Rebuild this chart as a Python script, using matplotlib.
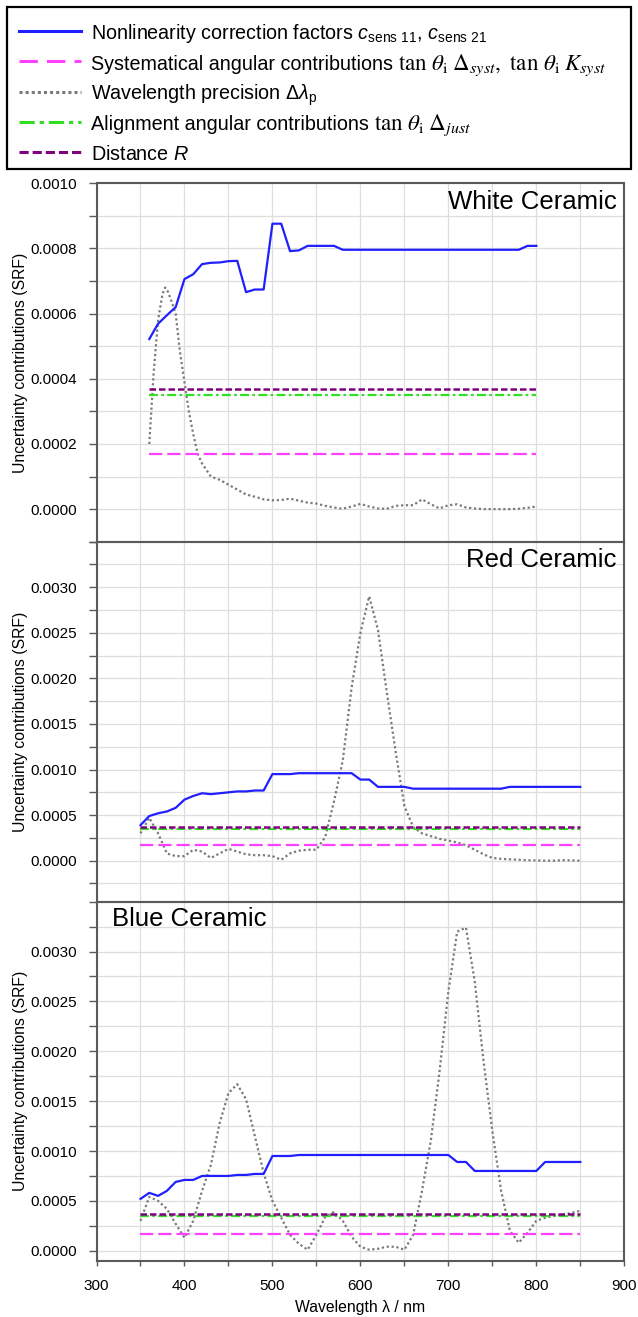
import matplotlib
matplotlib.use("Agg")
import matplotlib.pyplot as plt
from matplotlib.lines import Line2D
from matplotlib.patches import Rectangle
from matplotlib.ticker import MultipleLocator, FixedLocator, FormatStrFormatter
import numpy as np

plt.rcParams['font.family'] = ['Liberation Sans', 'DejaVu Sans']
plt.rcParams['mathtext.fontset'] = 'custom'
plt.rcParams['mathtext.rm'] = 'Liberation Sans'
plt.rcParams['mathtext.it'] = 'Liberation Sans:italic'
plt.rcParams['mathtext.bf'] = 'Liberation Sans:bold'

# ---- White ceramic ----
white_wl = list(range(360, 801, 10))
white_nonlin = [0.000522, 0.000569, 0.000595, 0.00062, 0.000706, 0.000721, 0.000752,
                0.000756, 0.000757, 0.000761, 0.000762, 0.000666, 0.000674, 0.000674,
                0.000876, 0.000876, 0.000792, 0.000794, 0.000808, 0.000808, 0.000808,
                0.000808, 0.000796, 0.000796, 0.000796, 0.000796, 0.000796, 0.000796,
                0.000796, 0.000796, 0.000796, 0.000796, 0.000796, 0.000796, 0.000796,
                0.000796, 0.000796, 0.000796, 0.000796, 0.000796, 0.000796, 0.000796,
                0.000796, 0.000808, 0.000808]
white_prec_wl = [360, 365, 370, 375, 378, 380, 385, 390, 395, 400, 405, 410, 415, 420,
                 430, 440, 450, 460, 470, 480, 490, 500, 510, 520, 530, 540, 550, 560,
                 570, 580, 590, 600, 610, 620, 630, 640, 650, 660, 670, 680, 690, 700,
                 710, 720, 730, 740, 750, 760, 770, 780, 790, 800]
white_prec = [0.0002, 0.00042, 0.00058, 0.00066, 0.00068, 0.000675, 0.00064, 0.0006,
              0.00048, 0.00039, 0.0003, 0.00023, 0.00017, 0.00014, 0.0001, 0.00009,
              0.000075, 0.00006, 0.000045, 0.000038, 0.00003, 0.000027, 0.000028,
              0.000032, 0.000026, 0.00002, 0.000017, 0.00001, 0.000005, 0.000001,
              0.000008, 0.000016, 0.000008, 0.000002, 0.000001, 0.00001, 0.000012,
              0.000012, 0.00003, 0.000015, 0.000002, 0.000012, 0.000015, 0.000005,
              0.000002, 0.0, 0.0, 0.0, 0.0, 0.000001, 0.000004, 0.000008]

# ---- Red ceramic ----
red_wl = list(range(350, 851, 10))
red_nonlin = [0.00039, 0.00049, 0.00052, 0.00054, 0.00058, 0.00067, 0.00071, 0.00074,
              0.00073, 0.00074, 0.00075, 0.00076, 0.00076, 0.00077, 0.00077, 0.00095,
              0.00095, 0.00095, 0.00096, 0.00096, 0.00096, 0.00096, 0.00096, 0.00096,
              0.00096, 0.00089, 0.00089, 0.00081, 0.00081, 0.00081, 0.00081, 0.00079,
              0.00079, 0.00079, 0.00079, 0.00079, 0.00079, 0.00079, 0.00079, 0.00079,
              0.00079, 0.00079, 0.00081, 0.00081, 0.00081, 0.00081, 0.00081, 0.00081,
              0.00081, 0.00081, 0.00081]
red_prec = [0.0003, 0.00047, 0.0003, 0.00008, 0.00005, 0.00005, 0.00012, 0.0001, 0.00003,
            0.00008, 0.00013, 0.0001, 0.00007, 0.00006, 0.00006, 0.00005, 0.00001,
            0.00008, 0.00011, 0.00012, 0.00012, 0.00026, 0.00065, 0.0011, 0.0019, 0.0025,
            0.0029, 0.00253, 0.00185, 0.0012, 0.0006, 0.00037, 0.0003, 0.00027, 0.00024,
            0.00022, 0.0002, 0.00017, 0.00012, 0.00007, 0.00003, 0.00002, 0.000015,
            0.00001, 0.000005, 0.000003, 0.0, 0.0, 0.000005, 0.000003, 0.0]

# ---- Blue ceramic ----
blue_wl = list(range(350, 851, 10))
blue_nonlin = [0.00052, 0.00058, 0.00055, 0.0006, 0.00069, 0.00071, 0.00071, 0.00075,
               0.00075, 0.00075, 0.00075, 0.00076, 0.00076, 0.00077, 0.00077, 0.00095,
               0.00095, 0.00095, 0.00096, 0.00096, 0.00096, 0.00096, 0.00096, 0.00096,
               0.00096, 0.00096, 0.00096, 0.00096, 0.00096, 0.00096, 0.00096, 0.00096,
               0.00096, 0.00096, 0.00096, 0.00096, 0.00089, 0.00089, 0.0008, 0.0008,
               0.0008, 0.0008, 0.0008, 0.0008, 0.0008, 0.0008, 0.00089, 0.00089,
               0.00089, 0.00089, 0.00089]
blue_prec = [0.0003, 0.00054, 0.0005, 0.00042, 0.00027, 0.00013, 0.0003, 0.0006, 0.00086,
             0.00128, 0.00158, 0.00167, 0.00152, 0.00115, 0.00078, 0.0005, 0.00033,
             0.00016, 0.00007, 0.00001, 0.00016, 0.00034, 0.00039, 0.0003, 0.00014,
             0.00004, 0.00001, 0.00002, 0.00004, 0.00004, 0.00001, 0.00016, 0.0006,
             0.0011, 0.0018, 0.0026, 0.0032, 0.00324, 0.0027, 0.0019, 0.0012, 0.0006,
             0.0002, 0.00008, 0.00018, 0.0003, 0.00033, 0.00035, 0.00036, 0.00038, 0.0004]

# constant contributions (same for all samples)
syst_angular = 0.00017
align_angular = 0.00035
distance_r = 0.00037

panels = [
    ("White Ceramic", white_wl, white_nonlin, white_prec_wl, white_prec, (-0.0001, 0.0010), 0.0002, 0.0001, 0.0010),
    ("Red Ceramic", red_wl, red_nonlin, red_wl, red_prec, (-0.00045, 0.0035), 0.0005, 0.00025, 0.0030),
    ("Blue Ceramic", blue_wl, blue_nonlin, blue_wl, blue_prec, (-0.0001, 0.0035), 0.0005, 0.00025, 0.0030),
]

c_blue = '#1f1fff'
c_mag = '#ff40ff'
c_gray = '#7a7a7a'
c_green = '#33dd22'
c_purple = '#800080'

W, H = 638, 1317
fig = plt.figure(figsize=(W / 100, H / 100), dpi=100)

left, right = 96.5, 624.3
boxes = [(183.3, 541.7), (541.7, 901.7), (901.7, 1260.7)]

for i, (name, wl, nonlin, pwl, prec, ylim, major, minor, ymax_lab) in enumerate(panels):
    top, bot = boxes[i]
    ax = fig.add_axes([left / W, 1 - bot / H, (right - left) / W, (bot - top) / H])
    x0, x1 = wl[0], wl[-1]
    ax.plot(pwl, prec, color=c_gray, lw=1.6, linestyle=(0, (1, 1.2)), zorder=3)
    ax.plot([x0, x1], [syst_angular] * 2, color=c_mag, lw=1.6, dashes=(6, 2.2), zorder=3)
    ax.plot([x0, x1], [align_angular] * 2, color=c_green, lw=1.6, dashes=(4, 1.5, 1.2, 1.5), zorder=3)
    ax.plot([x0, x1], [distance_r] * 2, color=c_purple, lw=1.8, dashes=(2.6, 1.2), zorder=3)
    ax.plot(wl, nonlin, color=c_blue, lw=1.6, zorder=4)

    ax.set_xlim(300, 900)
    ax.set_ylim(*ylim)
    ax.xaxis.set_major_locator(MultipleLocator(100))
    ax.xaxis.set_minor_locator(MultipleLocator(50))
    ax.yaxis.set_major_locator(FixedLocator(np.arange(0, ymax_lab + major / 2, major)))
    ax.yaxis.set_minor_locator(MultipleLocator(minor))
    ax.yaxis.set_major_formatter(FormatStrFormatter('%.4f'))
    ax.grid(True, which='both', color='#dedede', lw=0.9)
    ax.set_axisbelow(True)
    for sp in ax.spines.values():
        sp.set_color('#5a5a5a')
        sp.set_linewidth(1.5)
    ax.tick_params(axis='y', which='both', direction='out', length=6, width=1,
                   color='#5a5a5a', labelsize=11, pad=8)
    ax.tick_params(axis='x', which='both', direction='out', length=3.5, width=1,
                   color='#5a5a5a', labelsize=11, pad=10)
    ax.set_ylabel("Uncertainty contributions (SRF)", fontsize=11.3)
    ax.yaxis.set_label_coords(-0.13, 0.5)
    if i < 2:
        ax.tick_params(axis='x', which='both', labelbottom=False, length=0)
    else:
        ax.set_xlabel("Wavelength \u03bb / nm", fontsize=11.3, labelpad=5)
    if name == "Blue Ceramic":
        ax.text(15.5 / (right - left), 1 - 17 / (bot - top), name, transform=ax.transAxes,
                ha='left', va='center', fontsize=18.5)
    else:
        ax.text(1 - 8 / (right - left), 1 - 18.5 / (bot - top), name, transform=ax.transAxes,
                ha='right', va='center', fontsize=18.5)

# legend box drawn in pixel positions of the figure
fig.add_artist(Rectangle((6.7 / W, 1 - 169.3 / H), 624 / W, 162 / H, transform=fig.transFigure,
                         fill=False, edgecolor='black', lw=1.6))
legend_styles = [
    dict(color=c_blue, lw=2.2),
    dict(color=c_mag, lw=2.2, dashes=(6, 3)),
    dict(color=c_gray, lw=2.2, linestyle=(0, (1, 1))),
    dict(color=c_green, lw=2.2, dashes=(5, 1.6, 1.4, 1.6)),
    dict(color=c_purple, lw=2.2, dashes=(3, 1.3)),
]
# each label: plain part, optional formula part set in a serif math face
legend_labels = [
    (r"Nonlinearity correction factors $c_{\mathrm{sens\ 11}}$, $c_{\mathrm{sens\ 21}}$", None),
    ("Systematical angular contributions ",
     r"$\tan\,\theta_{\mathrm{i}}\;\mathit{\Delta}_{syst},\ \tan\,\theta_{\mathrm{i}}\;K_{syst}$"),
    (r"Wavelength precision $\Delta\lambda_{\mathrm{p}}$", None),
    ("Alignment angular contributions ", r"$\tan\,\theta_{\mathrm{i}}\;\mathit{\Delta}_{just}$"),
    (r"Distance $R$", None),
]
legend_y = [30.7, 61.2, 91.5, 121.7, 151.7]
renderer = fig.canvas.get_renderer()
for style, (lab, formula), y in zip(legend_styles, legend_labels, legend_y):
    fig.add_artist(Line2D([19 / W, 81 / W], [1 - y / H] * 2, transform=fig.transFigure, **style))
    base = 1 - (y + 8.3) / H
    t = fig.text(90.7 / W, base, lab, fontsize=14.2, ha='left', va='baseline')
    if formula:
        x_end = t.get_window_extent(renderer).x1
        m = fig.text(x_end / W, base, formula, fontsize=16.6, ha='left', va='baseline')
        m.set_math_fontfamily('stix')

fig.savefig("out.png", dpi=100)
